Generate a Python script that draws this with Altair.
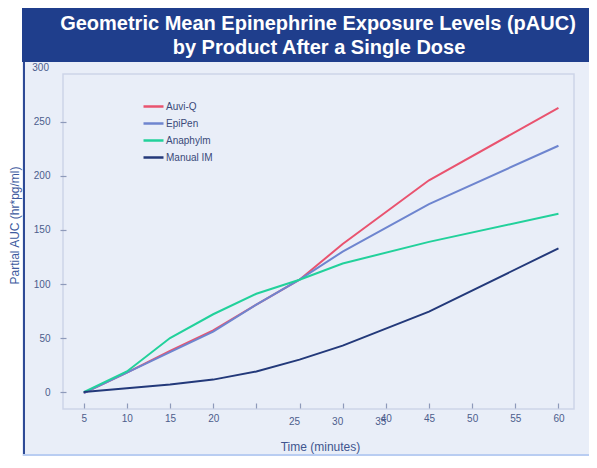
import altair as alt
import pandas as pd

# ---- data ----
times = [5, 10, 15, 20, 25, 30, 35, 45, 60]
auvi_q = [-1, 18, 38, 57, 81, 104, 137, 196, 263]
epipen = [-1, 18, 37, 56, 81, 104, 130, 174, 228]
anaphylm = [0, 19, 50, 72, 91, 104, 119, 139, 165]
manual_im = [0, 3.5, 7, 11.5, 19, 30, 43, 74.5, 133]
series = ["Auvi-Q", "EpiPen", "Anaphylm", "Manual IM"]
colors = ["#e9536f", "#6e85cf", "#22d19b", "#23397a"]

x_tick_values = [5, 10, 15, 20, 25, 30, 35, 40, 45, 50, 55, 60]
x_tick_labels = ["5", "10", "15", "20", "", "", "", "40", "45", "50", "55", "60"]
shifted_positions = [30, 35, 40]
shifted_labels = ["25", "30", "35"]
y_tick_values = [0, 50, 100, 150, 200, 250]
y_top_label = 300

title_line1 = "Geometric Mean Epinephrine Exposure Levels (pAUC)"
title_line2 = "by Product After a Single Dose"

rows = []
for name, vals in zip(series, [auvi_q, epipen, anaphylm, manual_im]):
    for t, v in zip(times, vals):
        rows.append({"series": name, "time": t, "value": v})
df = pd.DataFrame(rows)

W, H = 511, 335
BG = "#e9eef8"
LABEL_C = "#4c5d8c"
TICK_C = "#8e9aba"

xscale = alt.Scale(domain=[2.6, 61.8], nice=False, zero=False)
yscale = alt.Scale(domain=[-15.7, 294.4], nice=False, zero=False)

x_axis = alt.Axis(
    values=x_tick_values,
    labelExpr="[" + ",".join("'%s'" % s for s in x_tick_labels) + "][indexof([" +
              ",".join(str(v) for v in x_tick_values) + "], datum.value)]",
    offset=-6, tickSize=5, domain=False, grid=False, labelPadding=5,
    labelFontSize=10, labelColor=LABEL_C, tickColor=TICK_C, tickWidth=1.2,
    labelFont="Liberation Sans", title="Time (minutes)", titleFont="Liberation Sans",
    titleFontSize=12, titleFontWeight="normal", titleColor="#3f558f",
    titleX=257, titleY=43, titleBaseline="middle", zindex=2)
y_axis = alt.Axis(
    values=y_tick_values, offset=-3, tickSize=6, domain=False, grid=False,
    labelPadding=10, labelFontSize=10, labelColor=LABEL_C, tickColor=TICK_C,
    tickWidth=1.2, labelFont="Liberation Sans", title="Partial AUC (hr*pg/ml)",
    titleFont="Liberation Sans", titleFontSize=12, titleFontWeight="normal",
    titleColor="#3d5a9e", titleAngle=270, titleX=-52, titleY=151,
    titleAlign="center", titleBaseline="middle", zindex=2)

one = alt.Data(values=[{}])

bg = alt.Chart(one).mark_rect(color=BG).encode(
    x=alt.value(-41), x2=alt.value(W + 20), y=alt.value(-12), y2=alt.value(H + 60))
band = alt.Chart(one).mark_rect(color="#1f3e8c").encode(
    x=alt.value(-41), x2=alt.value(W + 20), y=alt.value(-70), y2=alt.value(-12))
left_border = alt.Chart(one).mark_rule(color="#2e4a96", strokeWidth=2).encode(
    x=alt.value(-39), y=alt.value(-12), y2=alt.value(H + 60))
bottom_border = alt.Chart(one).mark_rule(color="#b9cdf2", strokeWidth=2).encode(
    x=alt.value(-40), x2=alt.value(W + 20), y=alt.value(H + 46))
frame = alt.Chart(one).mark_rect(fill=None, stroke="#cdd5e8", strokeWidth=1.5).encode(
    x=alt.value(0), x2=alt.value(W), y=alt.value(0), y2=alt.value(H))

lines = alt.Chart(df).mark_line(strokeWidth=2).encode(
    x=alt.X("time:Q", scale=xscale, axis=x_axis),
    y=alt.Y("value:Q", scale=yscale, axis=y_axis),
    color=alt.Color("series:N", scale=alt.Scale(domain=series, range=colors),
                    sort=series,
                    legend=alt.Legend(orient="none", legendX=84, legendY=26,
                                      title=None, symbolType="M-2,0L2,0",
                                      symbolSize=100, symbolStrokeWidth=2.5,
                                      labelFontSize=10, labelColor="#3a4a78",
                                      labelFont="Liberation Sans", labelOffset=6,
                                      rowPadding=5, padding=0)),
    order=alt.Order("time:Q"),
)

shifted = alt.Chart(pd.DataFrame({"time": shifted_positions, "lab": shifted_labels})).mark_text(
    fontSize=10, color=LABEL_C, font="Liberation Sans", baseline="middle", dx=-5
).encode(x=alt.X("time:Q", scale=xscale, axis=x_axis), y=alt.value(H + 13), text="lab:N")

top_lab = alt.Chart(one).mark_text(
    fontSize=10, color=LABEL_C, font="Liberation Sans", align="right", baseline="middle"
).encode(x=alt.value(-14), y=alt.YDatum(y_top_label, scale=yscale, axis=y_axis),
         text=alt.value(str(y_top_label)))

title1 = alt.Chart(one).mark_text(
    fontSize=20, fontWeight="bold", color="white", font="Liberation Sans",
    align="center", baseline="alphabetic"
).encode(x=alt.value(255), y=alt.value(-44), text=alt.value(title_line1))
title2 = alt.Chart(one).mark_text(
    fontSize=20, fontWeight="bold", color="white", font="Liberation Sans",
    align="center", baseline="alphabetic"
).encode(x=alt.value(256), y=alt.value(-20), text=alt.value(title_line2))

chart = alt.layer(bg, band, left_border, bottom_border, frame, lines, shifted,
                  top_lab, title1, title2).properties(
    width=W, height=H,
    autosize=alt.AutoSizeParams(type="none"),
    padding={"left": 55, "top": 66, "right": 15, "bottom": 47},
    background="white",
).configure_view(stroke=None)

chart.save("out.html", embed_options={"renderer": "svg", "actions": False})
